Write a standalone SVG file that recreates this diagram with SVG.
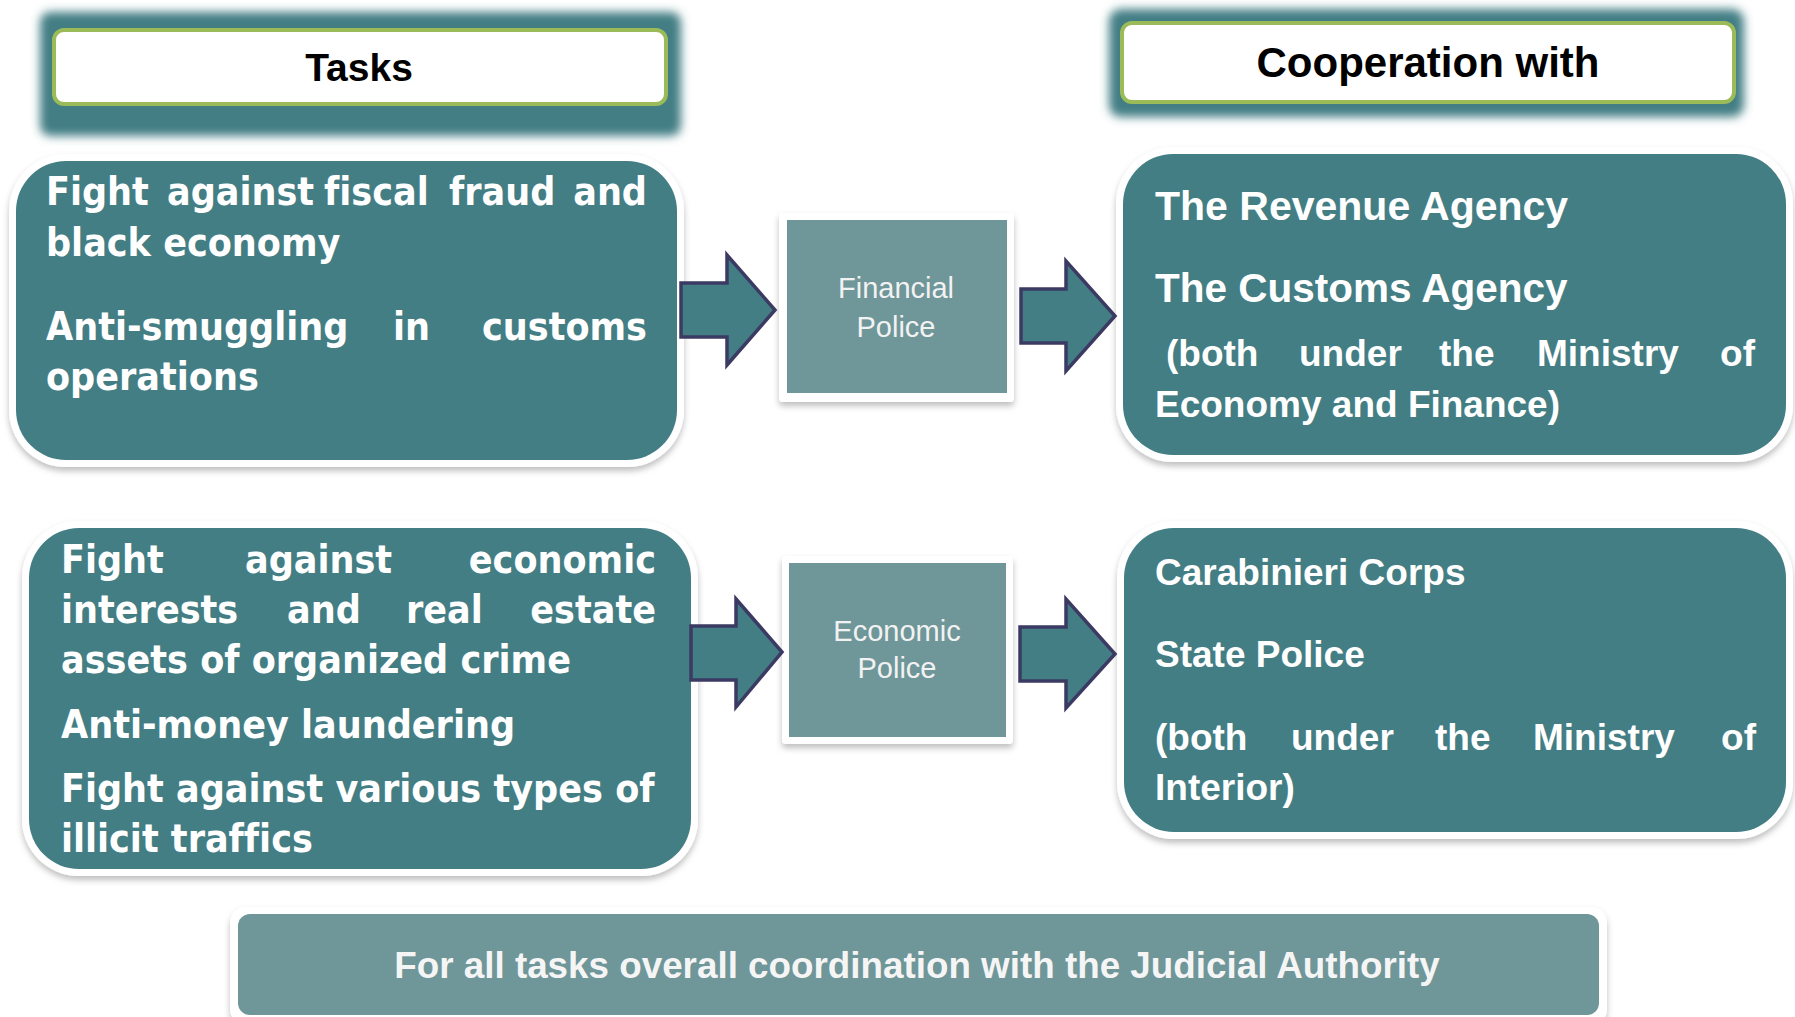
<svg xmlns="http://www.w3.org/2000/svg" width="1795" height="1017" viewBox="0 0 1795 1017">
  <defs>
    <filter id="glow" x="-10%" y="-30%" width="120%" height="160%">
      <feGaussianBlur stdDeviation="5"/>
    </filter>
    <filter id="shadow" x="-5%" y="-5%" width="110%" height="115%">
      <feDropShadow dx="0" dy="4" stdDeviation="3" flood-color="#000" flood-opacity="0.25"/>
    </filter>
    <style>
      .hdrbox { fill: #ffffff; stroke: #9BBB59; stroke-width: 4; }
      .hdrglow { fill: #437E84; }
      .hdrtxt { font-family: "Liberation Sans", Arial, sans-serif; font-weight: bold; fill: #000; text-anchor: middle; }
      .frame { fill: #ffffff; }
      .teal { fill: #437E84; }
      .police { fill: #6F9699; }
      .task { font-family: "DejaVu Sans Condensed", "DejaVu Sans", sans-serif; font-stretch: condensed; font-weight: bold; font-size: 39px; fill: #ffffff; font-variant-ligatures: none; }
      .coop { font-family: "Liberation Sans", Arial, sans-serif; font-weight: bold; fill: #ffffff; }
      .ptxt { font-family: "Liberation Sans", Arial, sans-serif; font-size: 29px; fill: #F2F2F2; text-anchor: middle; }
      .arrow { fill: #437E84; stroke: #3B3A63; stroke-width: 3.5; stroke-linejoin: miter; }
      .foot { font-family: "Liberation Sans", Arial, sans-serif; font-weight: bold; font-size: 36.8px; fill: #F5F5F5; text-anchor: middle; }
    </style>
  </defs>

  <g id="header-tasks">
    <rect class="hdrglow" x="40" y="12" width="641" height="124" rx="10" filter="url(#glow)"/>
    <rect class="hdrbox" x="54" y="30" width="612" height="74" rx="10"/>
    <text class="hdrtxt" x="359" y="81" font-size="39">Tasks</text>
  </g>

  <g id="header-cooperation">
    <rect class="hdrglow" x="1109" y="9" width="635" height="108" rx="12" filter="url(#glow)"/>
    <rect class="hdrbox" x="1122" y="23" width="612" height="79" rx="10"/>
    <text class="hdrtxt" x="1428" y="77" font-size="42">Cooperation with</text>
  </g>

  <g id="tasks-financial">
    <rect class="frame" x="9" y="154" width="675" height="313" rx="57" filter="url(#shadow)"/>
    <rect class="teal" x="16" y="161" width="661" height="299" rx="50"/>
    <text class="task" y="205"><tspan x="46">Fight</tspan><tspan x="167">against</tspan><tspan x="324">fiscal</tspan><tspan x="449">fraud</tspan><tspan x="647" text-anchor="end">and</tspan></text>
    <text class="task" x="46" y="256">black economy</text>
    <text class="task" y="340"><tspan x="46">Anti-smuggling</tspan><tspan x="393">in</tspan><tspan x="647" text-anchor="end">customs</tspan></text>
    <text class="task" x="46" y="390">operations</text>
  </g>

  <g id="financial-police">
    <rect class="frame" x="779" y="213" width="235" height="189" rx="4" filter="url(#shadow)"/>
    <rect class="police" x="787" y="220" width="220" height="173"/>
    <text class="ptxt" x="896" y="298">Financial</text>
    <text class="ptxt" x="896" y="337">Police</text>
  </g>

  <g id="coop-financial">
    <rect class="frame" x="1116" y="147" width="677" height="315" rx="57" filter="url(#shadow)"/>
    <rect class="teal" x="1123" y="154" width="663" height="301" rx="50"/>
    <text class="coop" x="1155" y="220" font-size="41">The Revenue Agency</text>
    <text class="coop" x="1155" y="302" font-size="40.5">The Customs Agency</text>
    <text class="coop" y="366" font-size="37"><tspan x="1166">(both</tspan><tspan x="1299">under</tspan><tspan x="1439">the</tspan><tspan x="1537">Ministry</tspan><tspan x="1755" text-anchor="end">of</tspan></text>
    <text class="coop" x="1155" y="417" font-size="37">Economy and Finance)</text>
  </g>

  <g id="tasks-economic">
    <rect class="frame" x="22" y="521" width="676" height="355" rx="57" filter="url(#shadow)"/>
    <rect class="teal" x="29" y="528" width="662" height="341" rx="50"/>
    <text class="task" y="573"><tspan x="61">Fight</tspan><tspan x="245">against</tspan><tspan x="656" text-anchor="end">economic</tspan></text>
    <text class="task" y="623"><tspan x="61">interests</tspan><tspan x="287">and</tspan><tspan x="406">real</tspan><tspan x="656" text-anchor="end">estate</tspan></text>
    <text class="task" x="61" y="673">assets of organized crime</text>
    <text class="task" x="61" y="738">Anti-money laundering</text>
    <text class="task" x="61" y="802">Fight against various types of</text>
    <text class="task" x="61" y="852">illicit traffics</text>
  </g>

  <g id="economic-police">
    <rect class="frame" x="782" y="556" width="231" height="188" rx="4" filter="url(#shadow)"/>
    <rect class="police" x="789" y="563" width="217" height="174"/>
    <text class="ptxt" x="897" y="641">Economic</text>
    <text class="ptxt" x="897" y="678">Police</text>
  </g>

  <g id="coop-economic">
    <rect class="frame" x="1117" y="521" width="676" height="318" rx="57" filter="url(#shadow)"/>
    <rect class="teal" x="1124" y="528" width="662" height="304" rx="50"/>
    <text class="coop" x="1155" y="585" font-size="37">Carabinieri Corps</text>
    <text class="coop" x="1155" y="667" font-size="37">State Police</text>
    <text class="coop" y="750" font-size="37"><tspan x="1155">(both</tspan><tspan x="1291">under</tspan><tspan x="1435">the</tspan><tspan x="1533">Ministry</tspan><tspan x="1756" text-anchor="end">of</tspan></text>
    <text class="coop" x="1155" y="800" font-size="37">Interior)</text>
  </g>

  <g id="judicial-coordination">
    <rect class="frame" x="230" y="907" width="1377" height="118" rx="16" filter="url(#shadow)"/>
    <rect class="police" x="238" y="914" width="1361" height="101" rx="12"/>
    <text class="foot" x="917" y="978">For all tasks overall coordination with the Judicial Authority</text>
  </g>

  <g id="connectors">
    <polygon class="arrow" points="681,283 727,283 727,255 775,310 727,365 727,337 681,337"/>
    <polygon class="arrow" points="1021,289 1066,289 1066,261 1115,316 1066,371 1066,343 1021,343"/>
    <polygon class="arrow" points="691,626 736,626 736,599 782,652 736,707 736,680 691,680"/>
    <polygon class="arrow" points="1020,627 1066,627 1066,599 1115,654 1066,708 1066,681 1020,681"/>
  </g>
</svg>
